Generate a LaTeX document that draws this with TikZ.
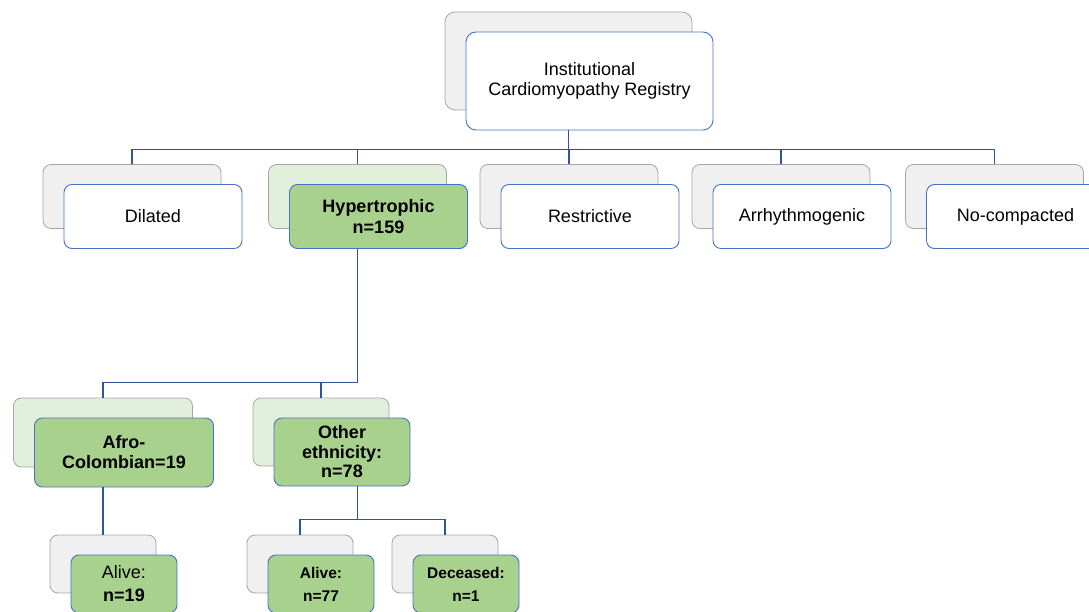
\documentclass[tikz,border=0pt]{standalone}
\usepackage{fontspec}
\setmainfont{Liberation Sans}
\usetikzlibrary{shadows}

\definecolor{linkblue}{HTML}{2F5597}
\definecolor{frameblue}{HTML}{4472C4}
\definecolor{backgrey}{HTML}{F0F0F0}
\definecolor{backgreen}{HTML}{E2EFDA}
\definecolor{backline}{HTML}{A6A6A6}
\definecolor{frontgreen}{HTML}{A9D18E}

\begin{document}
\begin{tikzpicture}[
    x=1pt, y=-1pt,
    box/.style={rectangle, rounded corners=8pt, draw=frameblue, line width=0.9pt,
        fill=white, align=center, inner sep=0pt, text=black,
        font=\fontsize{18}{20}\selectfont},
    greenbox/.style={box, fill=frontgreen},
    greyback/.style={copy shadow={shadow xshift=-21pt, shadow yshift=20pt,
        fill=backgrey, draw=backline, line width=0.8pt}},
    greenback/.style={copy shadow={shadow xshift=-21pt, shadow yshift=20pt,
        fill=backgreen, draw=backline, line width=0.8pt}},
    typebox/.style={minimum width=178pt, minimum height=64pt},
    leafbox/.style={minimum width=106pt, minimum height=58pt},
    link/.style={draw=linkblue, line width=1.1pt},
]
\useasboundingbox (0,0) rectangle (1089,612);

% =============================================================================
% Registry
% =============================================================================
\node[box, greyback, rounded corners=10pt, minimum width=247pt, minimum height=98pt]
    (reg) at (589.5,81) {Institutional\\Cardiomyopathy Registry};

% =============================================================================
% Cardiomyopathy types
% =============================================================================
\node[box, greyback, typebox] (dil) at (153,216.5) {Dilated};
\node[greenbox, greenback, typebox, font=\fontsize{18}{21}\selectfont\bfseries]
    (hyp) at (378.5,216.5) {Hypertrophic\\n=159};
\node[box, greyback, typebox] (res) at (590,216.5) {Restrictive};
\node[box, greyback, typebox] (arr) at (802,216.5) {Arrhythmogenic};
\node[box, greyback, typebox] (noc) at (1015.5,216.5) {No-compacted};

% Connectors from registry
\draw[link] ([xshift=-21pt]reg.south) -- ++(0,19) coordinate (tbus);
\foreach \n in {dil, hyp, res, arr, noc} {
    \draw[link] (tbus) -| ([shift={(-21pt,20pt)}]\n.north);
}

% =============================================================================
% Ethnicity
% =============================================================================
\node[greenbox, greenback, minimum width=179pt, minimum height=69pt,
    font=\fontsize{18}{20}\selectfont\bfseries]
    (afro) at (124,452.5) {Afro-\\Colombian=19};
\node[greenbox, greenback, minimum width=136pt, minimum height=68pt,
    font=\fontsize{18}{19.5}\selectfont\bfseries]
    (oth) at (342,452) {Other\\ethnicity:\\n=78};

\draw[link] ([xshift=-21pt]hyp.south) -- ++(0,133.5) coordinate (hbus);
\foreach \n in {afro, oth} {
    \draw[link] (hbus) -| ([shift={(-21pt,20pt)}]\n.north);
}

% =============================================================================
% Outcome
% =============================================================================
\node[greenbox, greyback, leafbox, font=\fontsize{18}{23}\selectfont]
    (alv1) at (124,584) {Alive:\\\textbf{n=19}};
\node[greenbox, greyback, leafbox, font=\fontsize{15.5}{23}\selectfont\bfseries]
    (alv2) at (321,584) {Alive:\\n=77};
\node[greenbox, greyback, leafbox, font=\fontsize{15.5}{23}\selectfont\bfseries]
    (dec) at (466,584) {Deceased:\\n=1};

\draw[link] ([xshift=-21pt]afro.south) -- ([shift={(-21pt,20pt)}]alv1.north);
\draw[link] (oth.south -| hbus) -- ++(0,33) coordinate (obus);
\foreach \n in {alv2, dec} {
    \draw[link] (obus) -| ([shift={(-21pt,20pt)}]\n.north);
}

\end{tikzpicture}
\end{document}
